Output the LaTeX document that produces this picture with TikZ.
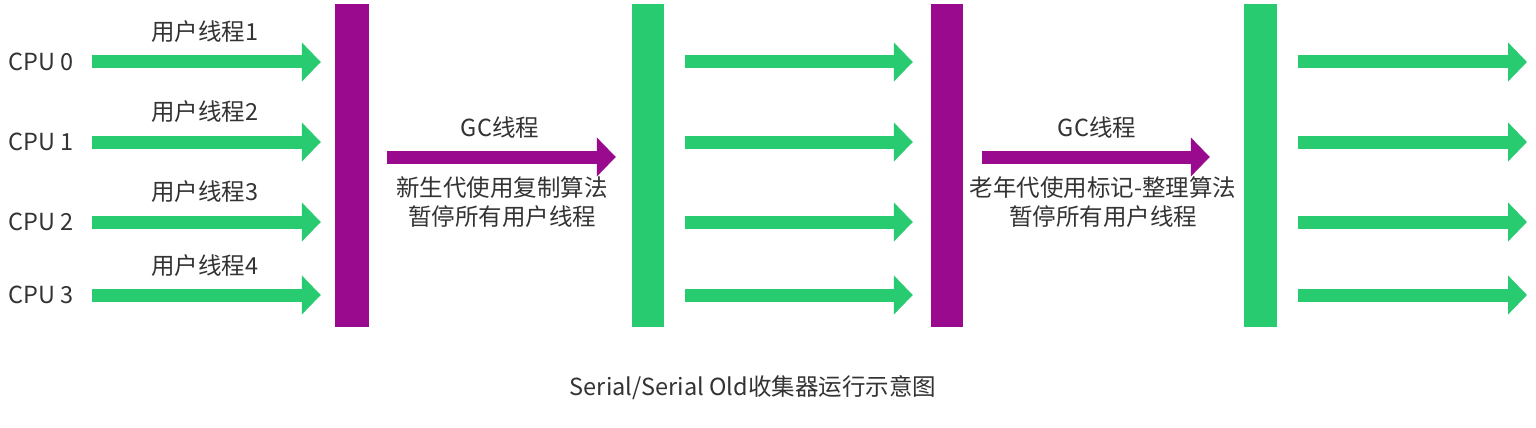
\documentclass[tikz,border=0pt]{standalone}
\usepackage{fontspec}
\setmainfont{Noto Sans CJK SC}
\usetikzlibrary{arrows.meta}
\definecolor{gc}{RGB}{41,203,113}
\definecolor{pc}{RGB}{153,10,143}
\definecolor{tc}{RGB}{51,51,51}
\begin{document}
\begin{tikzpicture}[x=1pt,y=-1pt,
  lbl/.style={font=\fontsize{23.5}{29.5}\selectfont, text=tc, inner sep=0pt},
  barbox/.style={draw=none, minimum height=323pt, inner sep=0pt},
  garrow/.style={draw=gc, line width=13pt, line cap=butt, -{Triangle[length=19pt,width=38pt]}},
  parrow/.style={draw=pc, line width=13pt, line cap=butt, -{Triangle[length=19pt,width=38pt]}}]
\useasboundingbox[fill=white] (0,0) rectangle (1536,428);

% bars
\node[barbox, fill=pc, minimum width=34pt] (bar1) at (352,165.5) {};
\node[barbox, fill=gc, minimum width=32pt] (bar2) at (648,165.5) {};
\node[barbox, fill=pc, minimum width=32pt] (bar3) at (947,165.5) {};
\node[barbox, fill=gc, minimum width=33pt] (bar4) at (1260.5,165.5) {};

% row coordinates
\coordinate (r0) at (0,62);
\coordinate (r1) at (0,142);
\coordinate (r2) at (0,222);
\coordinate (r3) at (0,295);
\coordinate (g) at (0,157);
\coordinate (e0) at (1527,62);
\coordinate (e1) at (1527,142);
\coordinate (e2) at (1527,222);
\coordinate (e3) at (1527,295);

% CPU labels
\node[lbl, anchor=west] (cpu0) at (8,62) {CPU 0};
\node[lbl, anchor=west] (cpu1) at (8,142) {CPU 1};
\node[lbl, anchor=west] (cpu2) at (8,222) {CPU 2};
\node[lbl, anchor=west] (cpu3) at (8,295) {CPU 3};

% user thread labels
\node[lbl] (u1) at (205,32) {用户线程1};
\node[lbl] (u2) at (205,112) {用户线程2};
\node[lbl] (u3) at (205,192) {用户线程3};
\node[lbl] (u4) at (205,266) {用户线程4};

% column 1 arrows
\foreach \i in {0,1,2,3}{
  \draw[garrow] ([xshift=84pt]cpu\i.west) -- ([xshift=-14pt]bar1.west |- cpu\i.west);
}
% column 2 arrows
\foreach \i in {0,1,2,3}{
  \draw[garrow] ([xshift=21pt]bar2.east |- r\i) -- ([xshift=-18pt]bar3.west |- r\i);
}
% column 4 arrows
\foreach \i in {0,1,2,3}{
  \draw[garrow] ([xshift=21pt]bar4.east |- r\i) -- (e\i);
}

% GC arrows
\draw[parrow] ([xshift=18pt]bar1.east |- g) -- ([xshift=-16pt]bar2.west |- g);
\draw[parrow] ([xshift=19pt]bar3.east |- g) -- ([xshift=-34pt]bar4.west |- g);

% GC labels
\node[lbl] (gc1) at (500,128) {GC线程};
\node[lbl] (gc2) at (1097,128) {GC线程};
\node[lbl, align=center] (d1) at (502,202) {新生代使用复制算法\\暂停所有用户线程};
\node[lbl, align=center] (d2) at (1103,202) {老年代使用标记-整理算法\\暂停所有用户线程};

% caption
\node[lbl] (cap) at (753,388) {Serial/Serial Old收集器运行示意图};
\end{tikzpicture}
\end{document}
